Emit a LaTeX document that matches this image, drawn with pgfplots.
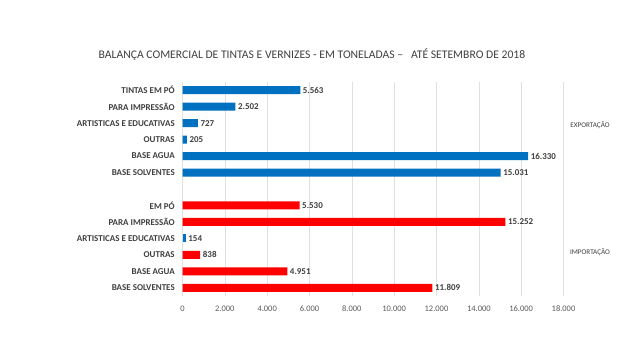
\documentclass[border=0pt]{standalone}
\usepackage{pgfplots}
\pgfplotsset{compat=1.18}
\usepackage{fontspec}
\setmainfont{Carlito}
\definecolor{barblue}{HTML}{0070C0}
\definecolor{barred}{HTML}{FF0000}
\definecolor{txt}{HTML}{404040}
\definecolor{tick}{HTML}{595959}
\begin{document}
\begin{tikzpicture}
\useasboundingbox (0,0) rectangle (640bp,360bp);
\fill[white] (0,0) rectangle (640bp,360bp);
\begin{axis}[
  at={(182.5bp,64bp)}, anchor=south west,
  scale only axis, width=381bp, height=214bp,
  xmin=0, xmax=18000, ymin=-0.5, ymax=12.5, y dir=reverse,
  xtick={0,2000,...,18000}, scaled x ticks=false,
  ytick={0,1,2,3,4,5,7,8,9,10,11,12},
  yticklabels={TINTAS EM PÓ,PARA IMPRESSÃO,ARTISTICAS E EDUCATIVAS,OUTRAS,BASE AGUA,BASE SOLVENTES,EM PÓ,PARA IMPRESSÃO,ARTISTICAS E EDUCATIVAS,OUTRAS,BASE AGUA,BASE SOLVENTES},
  /pgf/number format/.cd, 1000 sep={.}, assume math mode=true, /pgfplots/.cd,
  xticklabel style={font=\fontsize{8.5}{9}\selectfont, text=tick, yshift=-6bp},
  yticklabel style={font=\bfseries\fontsize{9}{10}\selectfont, text=txt},
  xmajorgrids, major grid style={draw=black!12},
  axis line style={draw=none}, tick style={draw=none},
  clip=false,
  xbar, bar width=8bp, bar shift=0pt,
  nodes near coords={\pgfmathprintnumber[1000 sep={.},assume math mode=true]{\pgfplotspointmeta}},
  every node near coord/.append style={font=\bfseries\fontsize{9}{10}\selectfont, text=txt, inner sep=2.5pt},
]
\addplot[fill=barblue, draw=none] coordinates {(5563,0) (2502,1) (727,2) (205,3) (16330,4) (15031,5)};
\addplot[fill=barred, draw=none] coordinates {(5530,7) (15252,8) (838,10) (4951,11) (11809,12)};
\addplot[fill=barblue, draw=none] coordinates {(154,9)};
\end{axis}
\node[text=txt, font=\fontsize{11.7}{13}\selectfont] at (312bp,305bp) {BALANÇA COMERCIAL DE TINTAS E VERNIZES - EM TONELADAS –\ \ \ ATÉ SETEMBRO DE 2018};
\node[text=txt, font=\fontsize{7.2}{8}\selectfont] at (590bp,235bp) {EXPORTAÇÃO};
\node[text=txt, font=\fontsize{7.2}{8}\selectfont] at (590bp,108bp) {IMPORTAÇÃO};
\end{tikzpicture}
\end{document}
